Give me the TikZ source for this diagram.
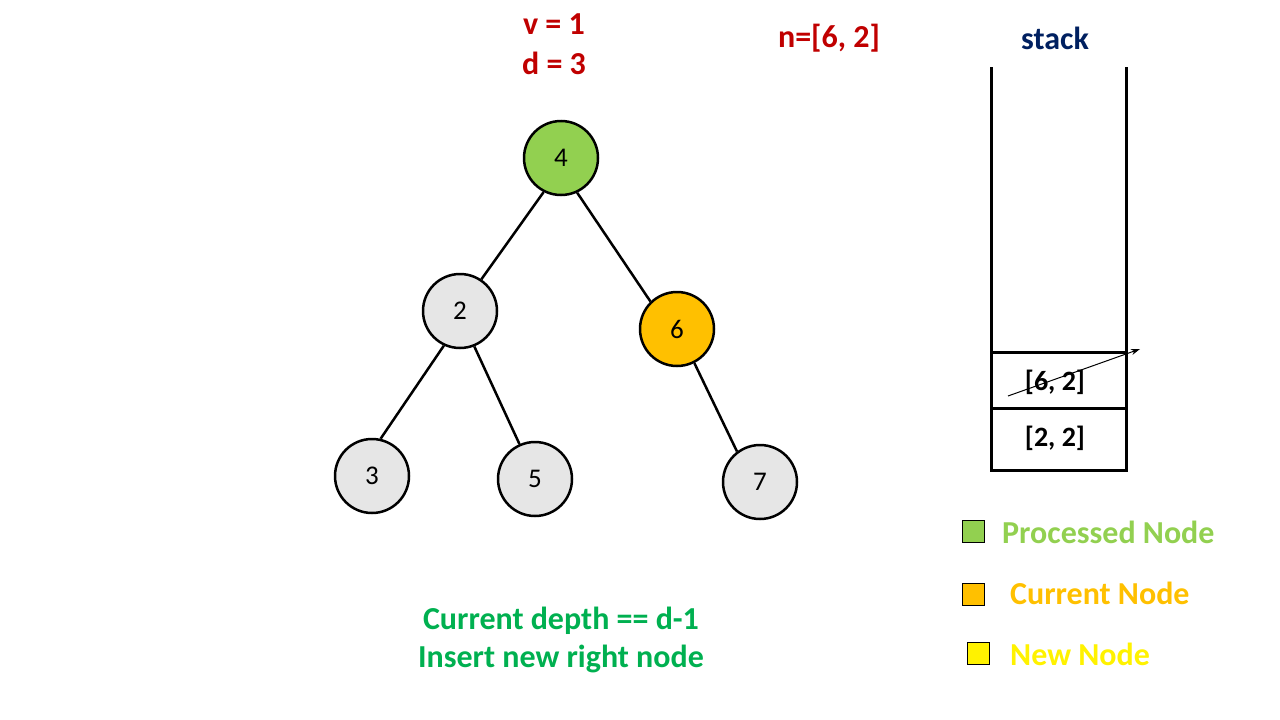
\documentclass[tikz,border=0pt]{standalone}
\usepackage{fontspec}
\setmainfont{Carlito}
\usetikzlibrary{arrows.meta}
\definecolor{dred}{HTML}{C00000}
\definecolor{navy}{HTML}{002060}
\definecolor{lgreen}{HTML}{92D050}
\definecolor{gorange}{HTML}{FFC000}
\definecolor{dgreen}{HTML}{00B050}
\definecolor{ngray}{HTML}{E6E6E6}
\tikzset{
  tnode/.style={circle,draw=black,line width=2.5pt,minimum size=74pt,inner sep=0pt,font=\fontsize{27}{30}\selectfont},
  edge/.style={line width=2.5pt},
  stk/.style={line width=3pt},
  lbl/.style={font=\bfseries\fontsize{32}{36}\selectfont},
  stklbl/.style={font=\bfseries\fontsize{28}{32}\selectfont},
  legbox/.style={draw=black,line width=1pt,minimum size=22pt,inner sep=0pt},
}
\begin{document}
\begin{tikzpicture}[x=1pt,y=-1pt]
\useasboundingbox (0,0) rectangle (1280,720);
% header texts
\node[lbl,text=dred] (v) at (554,24) {v = 1};
\node[lbl,text=dred] (d) at (554,63) {d = 3};
\node[lbl,text=dred] (n) at (829,38) {n=[6, 2]};
\node[lbl,text=navy] (st) at (1055,38) {stack};
% tree
\node[tnode,fill=lgreen] (n4) at (561,158) {4};
\node[tnode,fill=ngray] (n2) at (460,311) {2};
\node[tnode,fill=gorange] (n6) at (677,329) {6};
\node[tnode,fill=ngray] (n3) at (372,476) {3};
\node[tnode,fill=ngray] (n5) at (535,479) {5};
\node[tnode,fill=ngray] (n7) at (760,482) {7};
\draw[edge] (n4.243) -- (n2.56);
\draw[edge] (n4.295) -- (n6.134);
\draw[edge] (n2.245) -- (n3.77);
\draw[edge] (n2.292) -- (n5.114);
\draw[edge] (n6.297) -- (n7.127);
% stack
\coordinate (tl) at (991,67);
\coordinate (tr) at (1126,67);
\coordinate (bl) at (991,470);
\coordinate (br) at (1126,470);
\draw[stk] (tl) -- (bl) -- (br) -- (tr);
\coordinate (m1l) at (991,352);
\coordinate (m1r) at (1126,352);
\coordinate (m2l) at (991,408);
\coordinate (m2r) at (1126,408);
\draw[stk] (m1l) -- (m1r);
\draw[stk] (m2l) -- (m2r);
\node[stklbl] (s1) at (1055,382) {[6, 2]};
\node[stklbl] (s2) at (1055,438) {[2, 2]};
\coordinate (a1) at (1008,396);
\coordinate (a2) at (1140,349);
\draw[line width=1pt,-{Stealth[length=9pt,width=6pt]}] (a1) -- (a2);
% bottom text
\node[lbl,text=dgreen] (c1) at (561,621) {Current depth == d-1};
\node[lbl,text=dgreen] (c2) at (561,659) {Insert new right node};
% legend
\node[legbox,fill=lgreen] (lg1) at (973.5,531.5) {};
\node[lbl,text=lgreen,anchor=west,inner sep=0pt] (lt1) at (1002,532) {Processed Node};
\node[legbox,fill=gorange] (lg2) at (973.5,594.5) {};
\node[lbl,text=gorange,anchor=west,inner sep=0pt] (lt2) at (1010,593) {Current Node};
\node[legbox,fill=yellow] (lg3) at (978.5,653.5) {};
\node[lbl,text=yellow,anchor=west,inner sep=0pt] (lt3) at (1010,654) {New Node};
\end{tikzpicture}
\end{document}
